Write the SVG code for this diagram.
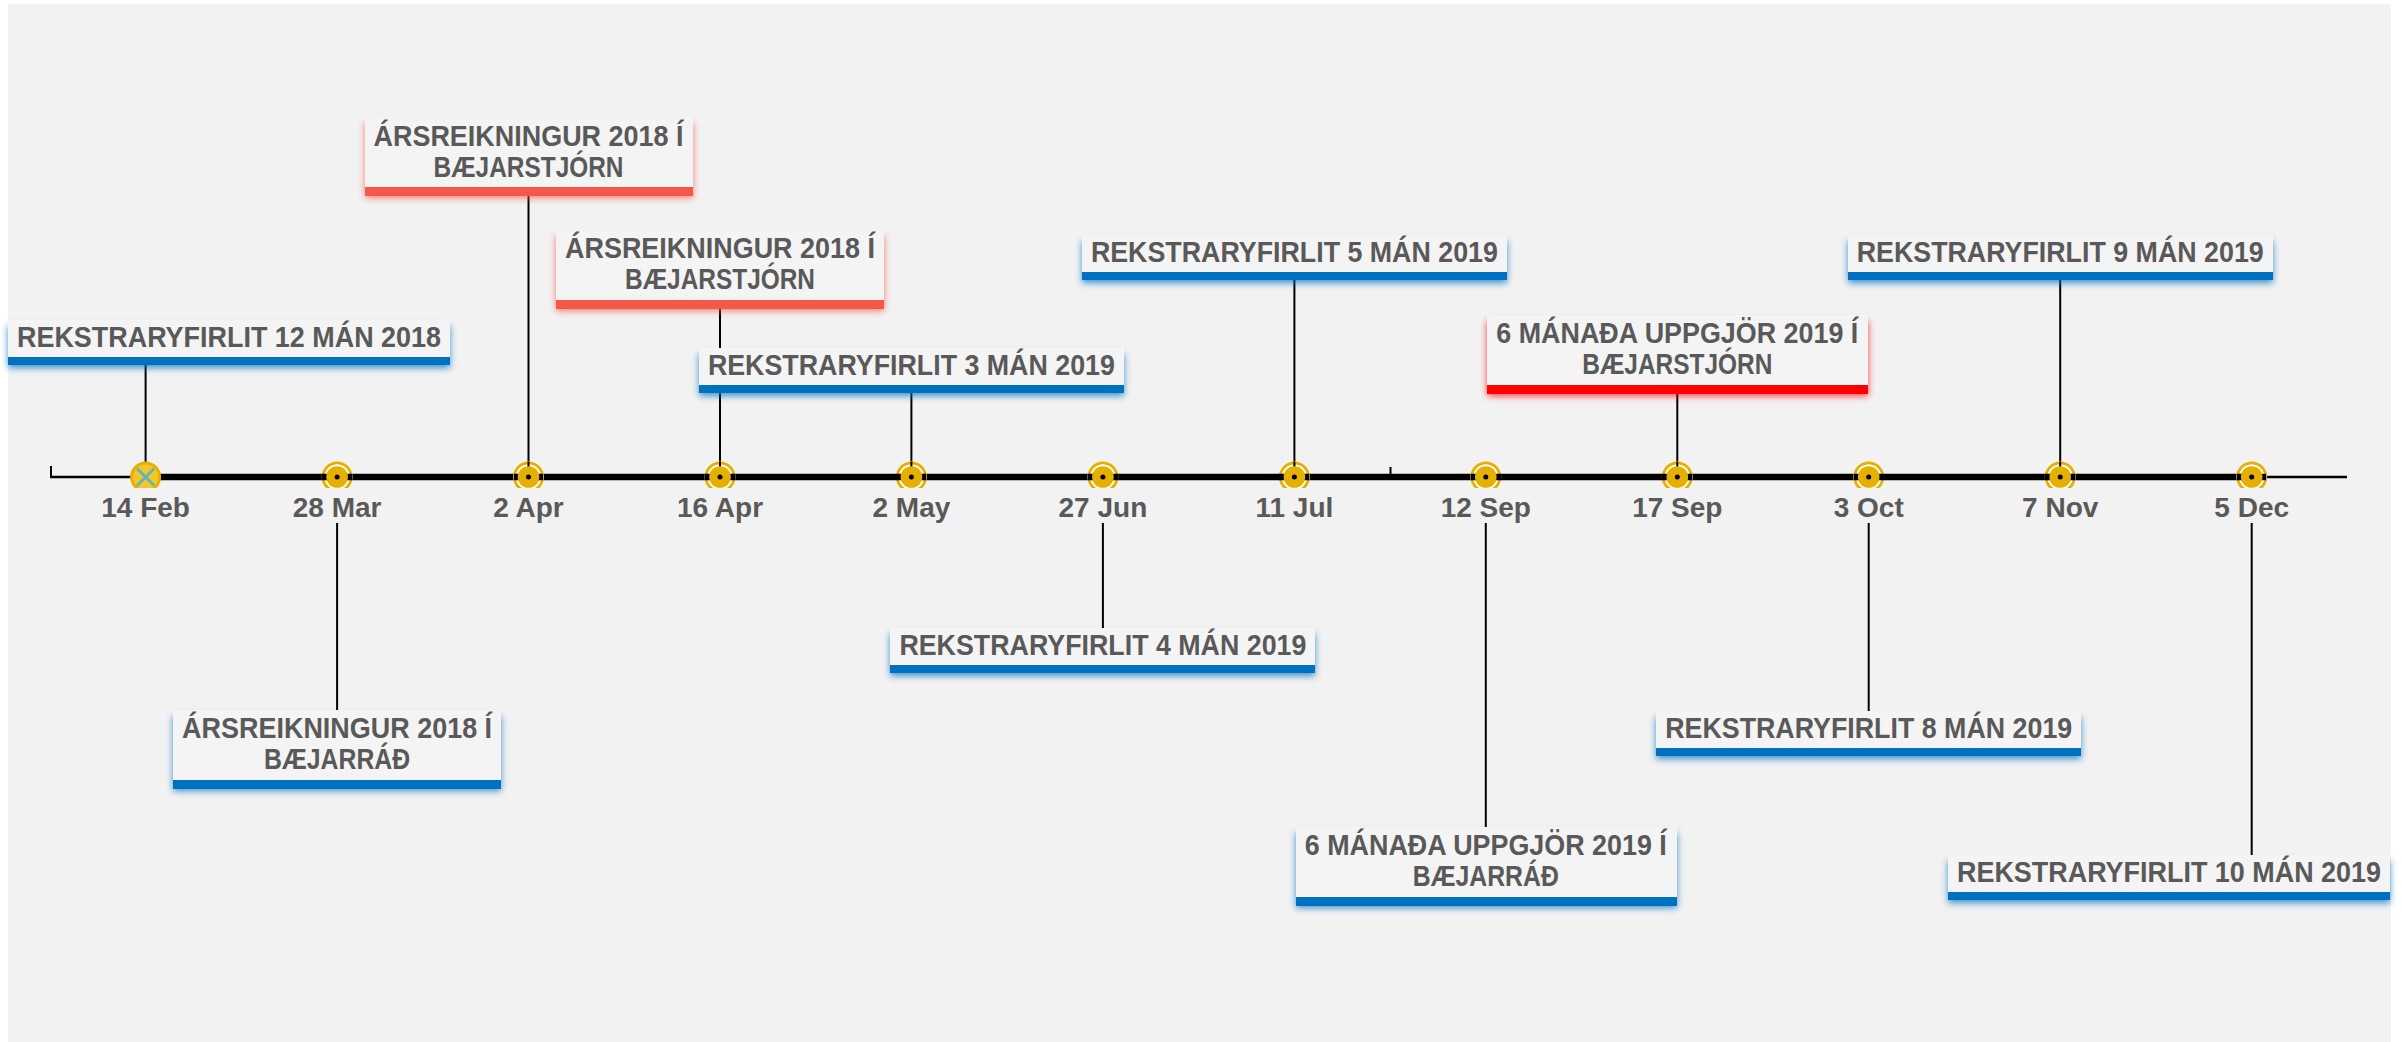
<svg xmlns="http://www.w3.org/2000/svg" width="2402" height="1042" viewBox="0 0 2402 1042">
<defs>
<style>
.t{font-family:"Liberation Sans",Arial,sans-serif;font-weight:bold;font-size:29.5px;fill:#595959;text-anchor:middle}
.d{font-family:"Liberation Sans",Arial,sans-serif;font-weight:bold;font-size:28px;fill:#595959;text-anchor:middle}
.box{fill:#f4f4f4}
.blue{fill:#0070c0}
.sal{fill:#f5574a}
.red{fill:#ff0000}
.sh{filter:url(#blur);opacity:0.75}
.c{stroke:#000;stroke-width:2;fill:none}
.ring{fill:none;stroke:#e6b000;stroke-width:3}
.gap{fill:none;stroke:#ffffff;stroke-width:1.8}
.inner{fill:#e6b000}
</style>
<filter id="blur" x="-10%" y="-30%" width="120%" height="160%"><feGaussianBlur stdDeviation="3.5"/></filter>
<clipPath id="mclip" clipPathUnits="userSpaceOnUse"><rect x="0" y="440" width="2402" height="48"/></clipPath>
</defs>
<rect x="0" y="0" width="2402" height="1042" fill="#ffffff"/>
<rect x="8" y="4" width="2383" height="1038" fill="#f2f2f2"/>

<g id="connectors">
<line class="c" x1="145.6" y1="365" x2="145.6" y2="477"/>
<line class="c" x1="528.5" y1="196" x2="528.5" y2="477"/>
<line class="c" x1="720" y1="308" x2="720" y2="477"/>
<line class="c" x1="911.4" y1="393" x2="911.4" y2="477"/>
<line class="c" x1="1294.4" y1="280" x2="1294.4" y2="477"/>
<line class="c" x1="1677.3" y1="393" x2="1677.3" y2="477"/>
<line class="c" x1="2060.2" y1="280" x2="2060.2" y2="477"/>
<line class="c" x1="337.1" y1="523" x2="337.1" y2="710"/>
<line class="c" x1="1102.9" y1="523" x2="1102.9" y2="628"/>
<line class="c" x1="1485.8" y1="523" x2="1485.8" y2="827"/>
<line class="c" x1="1868.7" y1="523" x2="1868.7" y2="711"/>
<line class="c" x1="2251.7" y1="523" x2="2251.7" y2="855"/>
</g>

<g id="axis">
<line x1="50" y1="477" x2="2347" y2="477" stroke="#000" stroke-width="2.3"/>
<line x1="145.6" y1="477" x2="2251.7" y2="477" stroke="#000" stroke-width="6.5"/>
<line x1="51" y1="466" x2="51" y2="478" stroke="#000" stroke-width="2"/>
<line x1="1390.5" y1="467" x2="1390.5" y2="477" stroke="#000" stroke-width="2"/>
</g>

<g id="markers" clip-path="url(#mclip)">
<g id="m0">
<circle cx="145.6" cy="477" r="14" fill="#f5c52e" stroke="#e6b000" stroke-width="3"/>
<line x1="137.1" y1="468.5" x2="154.1" y2="485.5" stroke="#5bb8b4" stroke-width="2.8"/>
<line x1="154.1" y1="468.5" x2="137.1" y2="485.5" stroke="#5bb8b4" stroke-width="2.8"/>
</g>
<g id="m1"><circle class="ring" cx="337.1" cy="477" r="14"/><circle class="gap" cx="337.1" cy="477" r="11.7"/><line x1="322" y1="477" x2="352" y2="477" stroke="#000" stroke-width="6.5"/><circle class="inner" cx="337.1" cy="477" r="10.8"/><circle cx="337.1" cy="477" r="2.5"/></g>
<g id="m2"><circle class="ring" cx="528.5" cy="477" r="14"/><circle class="gap" cx="528.5" cy="477" r="11.7"/><line x1="514" y1="477" x2="543" y2="477" stroke="#000" stroke-width="6.5"/><line x1="528.5" y1="462" x2="528.5" y2="477" stroke="#000" stroke-width="2"/><circle class="inner" cx="528.5" cy="477" r="10.8"/><circle cx="528.5" cy="477" r="2.5"/></g>
<g id="m3"><circle class="ring" cx="720" cy="477" r="14"/><circle class="gap" cx="720" cy="477" r="11.7"/><line x1="705" y1="477" x2="735" y2="477" stroke="#000" stroke-width="6.5"/><line x1="720" y1="462" x2="720" y2="477" stroke="#000" stroke-width="2"/><circle class="inner" cx="720" cy="477" r="10.8"/><circle cx="720" cy="477" r="2.5"/></g>
<g id="m4"><circle class="ring" cx="911.4" cy="477" r="14"/><circle class="gap" cx="911.4" cy="477" r="11.7"/><line x1="896" y1="477" x2="926" y2="477" stroke="#000" stroke-width="6.5"/><line x1="911.4" y1="462" x2="911.4" y2="477" stroke="#000" stroke-width="2"/><circle class="inner" cx="911.4" cy="477" r="10.8"/><circle cx="911.4" cy="477" r="2.5"/></g>
<g id="m5"><circle class="ring" cx="1102.9" cy="477" r="14"/><circle class="gap" cx="1102.9" cy="477" r="11.7"/><line x1="1088" y1="477" x2="1118" y2="477" stroke="#000" stroke-width="6.5"/><circle class="inner" cx="1102.9" cy="477" r="10.8"/><circle cx="1102.9" cy="477" r="2.5"/></g>
<g id="m6"><circle class="ring" cx="1294.4" cy="477" r="14"/><circle class="gap" cx="1294.4" cy="477" r="11.7"/><line x1="1279" y1="477" x2="1309" y2="477" stroke="#000" stroke-width="6.5"/><line x1="1294.4" y1="462" x2="1294.4" y2="477" stroke="#000" stroke-width="2"/><circle class="inner" cx="1294.4" cy="477" r="10.8"/><circle cx="1294.4" cy="477" r="2.5"/></g>
<g id="m7"><circle class="ring" cx="1485.8" cy="477" r="14"/><circle class="gap" cx="1485.8" cy="477" r="11.7"/><line x1="1471" y1="477" x2="1501" y2="477" stroke="#000" stroke-width="6.5"/><circle class="inner" cx="1485.8" cy="477" r="10.8"/><circle cx="1485.8" cy="477" r="2.5"/></g>
<g id="m8"><circle class="ring" cx="1677.3" cy="477" r="14"/><circle class="gap" cx="1677.3" cy="477" r="11.7"/><line x1="1662" y1="477" x2="1692" y2="477" stroke="#000" stroke-width="6.5"/><line x1="1677.3" y1="462" x2="1677.3" y2="477" stroke="#000" stroke-width="2"/><circle class="inner" cx="1677.3" cy="477" r="10.8"/><circle cx="1677.3" cy="477" r="2.5"/></g>
<g id="m9"><circle class="ring" cx="1868.7" cy="477" r="14"/><circle class="gap" cx="1868.7" cy="477" r="11.7"/><line x1="1854" y1="477" x2="1884" y2="477" stroke="#000" stroke-width="6.5"/><circle class="inner" cx="1868.7" cy="477" r="10.8"/><circle cx="1868.7" cy="477" r="2.5"/></g>
<g id="m10"><circle class="ring" cx="2060.2" cy="477" r="14"/><circle class="gap" cx="2060.2" cy="477" r="11.7"/><line x1="2045" y1="477" x2="2075" y2="477" stroke="#000" stroke-width="6.5"/><line x1="2060.2" y1="462" x2="2060.2" y2="477" stroke="#000" stroke-width="2"/><circle class="inner" cx="2060.2" cy="477" r="10.8"/><circle cx="2060.2" cy="477" r="2.5"/></g>
<g id="m11"><circle class="ring" cx="2251.7" cy="477" r="14"/><circle class="gap" cx="2251.7" cy="477" r="11.7"/><line x1="2237" y1="477" x2="2266" y2="477" stroke="#000" stroke-width="6.5"/><circle class="inner" cx="2251.7" cy="477" r="10.8"/><circle cx="2251.7" cy="477" r="2.5"/></g>
</g>

<g id="dates">
<text class="d" x="145.6" y="517">14 Feb</text>
<text class="d" x="337.1" y="517">28 Mar</text>
<text class="d" x="528.5" y="517">2 Apr</text>
<text class="d" x="720" y="517">16 Apr</text>
<text class="d" x="911.4" y="517">2 May</text>
<text class="d" x="1102.9" y="517">27 Jun</text>
<text class="d" x="1294.4" y="517">11 Jul</text>
<text class="d" x="1485.8" y="517">12 Sep</text>
<text class="d" x="1677.3" y="517">17 Sep</text>
<text class="d" x="1868.7" y="517">3 Oct</text>
<text class="d" x="2060.2" y="517">7 Nov</text>
<text class="d" x="2251.7" y="517">5 Dec</text>
</g>

<g id="n1">
<rect class="blue sh" x="8" y="326" width="442" height="42"/>
<rect class="box" x="8" y="320" width="442" height="37"/>
<rect class="blue" x="8" y="357" width="442" height="8"/>
<text class="t" x="229" y="346.5" textLength="424" lengthAdjust="spacingAndGlyphs">REKSTRARYFIRLIT 12 MÁN 2018</text>
</g>

<g id="n2">
<rect class="sal sh" x="365" y="123" width="328" height="75"/>
<rect class="box" x="365" y="117" width="328" height="70"/>
<rect class="sal" x="365" y="187" width="328" height="9"/>
<text class="t" x="528.5" y="145.5" textLength="310" lengthAdjust="spacingAndGlyphs">ÁRSREIKNINGUR 2018 Í</text>
<text class="t" x="528.5" y="177" textLength="190" lengthAdjust="spacingAndGlyphs">BÆJARSTJÓRN</text>
</g>

<g id="n3">
<rect class="sal sh" x="556" y="236" width="328" height="75"/>
<rect class="box" x="556" y="230" width="328" height="70"/>
<rect class="sal" x="556" y="300" width="328" height="9"/>
<text class="t" x="720" y="257.5" textLength="310" lengthAdjust="spacingAndGlyphs">ÁRSREIKNINGUR 2018 Í</text>
<text class="t" x="720" y="289" textLength="190" lengthAdjust="spacingAndGlyphs">BÆJARSTJÓRN</text>
</g>

<g id="n4">
<rect class="blue sh" x="699" y="354" width="425" height="42"/>
<rect class="box" x="699" y="348" width="425" height="37"/>
<rect class="blue" x="699" y="385" width="425" height="8"/>
<text class="t" x="911.4" y="374.5" textLength="407" lengthAdjust="spacingAndGlyphs">REKSTRARYFIRLIT 3 MÁN 2019</text>
</g>

<g id="n5">
<rect class="blue sh" x="1082" y="241" width="425" height="42"/>
<rect class="box" x="1082" y="235" width="425" height="37"/>
<rect class="blue" x="1082" y="272" width="425" height="8"/>
<text class="t" x="1294.4" y="261.5" textLength="407" lengthAdjust="spacingAndGlyphs">REKSTRARYFIRLIT 5 MÁN 2019</text>
</g>

<g id="n6">
<rect class="red sh" x="1487" y="321" width="381" height="75"/>
<rect class="box" x="1487" y="315" width="381" height="70"/>
<rect class="red" x="1487" y="385" width="381" height="9"/>
<text class="t" x="1677.3" y="342.5" textLength="362" lengthAdjust="spacingAndGlyphs">6 MÁNAÐA UPPGJÖR 2019 Í</text>
<text class="t" x="1677.3" y="374" textLength="190" lengthAdjust="spacingAndGlyphs">BÆJARSTJÓRN</text>
</g>

<g id="n7">
<rect class="blue sh" x="1848" y="241" width="425" height="42"/>
<rect class="box" x="1848" y="235" width="425" height="37"/>
<rect class="blue" x="1848" y="272" width="425" height="8"/>
<text class="t" x="2060.2" y="261.5" textLength="407" lengthAdjust="spacingAndGlyphs">REKSTRARYFIRLIT 9 MÁN 2019</text>
</g>

<g id="n8">
<rect class="blue sh" x="173" y="716" width="328" height="75"/>
<rect class="box" x="173" y="710" width="328" height="70"/>
<rect class="blue" x="173" y="780" width="328" height="9"/>
<text class="t" x="337.1" y="737.5" textLength="310" lengthAdjust="spacingAndGlyphs">ÁRSREIKNINGUR 2018 Í</text>
<text class="t" x="337.1" y="769" textLength="146" lengthAdjust="spacingAndGlyphs">BÆJARRÁÐ</text>
</g>

<g id="n9">
<rect class="blue sh" x="890" y="634" width="425" height="42"/>
<rect class="box" x="890" y="628" width="425" height="37"/>
<rect class="blue" x="890" y="665" width="425" height="8"/>
<text class="t" x="1102.9" y="654.5" textLength="407" lengthAdjust="spacingAndGlyphs">REKSTRARYFIRLIT 4 MÁN 2019</text>
</g>

<g id="n10">
<rect class="blue sh" x="1296" y="833" width="381" height="75"/>
<rect class="box" x="1296" y="827" width="381" height="70"/>
<rect class="blue" x="1296" y="897" width="381" height="9"/>
<text class="t" x="1485.8" y="854.5" textLength="362" lengthAdjust="spacingAndGlyphs">6 MÁNAÐA UPPGJÖR 2019 Í</text>
<text class="t" x="1485.8" y="886" textLength="146" lengthAdjust="spacingAndGlyphs">BÆJARRÁÐ</text>
</g>

<g id="n11">
<rect class="blue sh" x="1656" y="717" width="425" height="42"/>
<rect class="box" x="1656" y="711" width="425" height="37"/>
<rect class="blue" x="1656" y="748" width="425" height="8"/>
<text class="t" x="1868.7" y="737.5" textLength="407" lengthAdjust="spacingAndGlyphs">REKSTRARYFIRLIT 8 MÁN 2019</text>
</g>

<g id="n12">
<rect class="blue sh" x="1948" y="861" width="442" height="42"/>
<rect class="box" x="1948" y="855" width="442" height="37"/>
<rect class="blue" x="1948" y="892" width="442" height="8"/>
<text class="t" x="2169" y="881.5" textLength="424" lengthAdjust="spacingAndGlyphs">REKSTRARYFIRLIT 10 MÁN 2019</text>
</g>
</svg>
